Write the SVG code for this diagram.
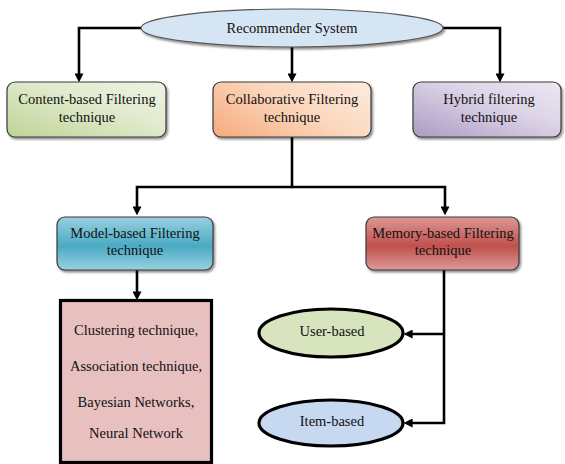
<svg xmlns="http://www.w3.org/2000/svg" width="565" height="464" viewBox="0 0 565 464">
<style>
  text { font-family: "Liberation Serif", "Times New Roman", serif; font-size: 14.5px; fill: #111; text-anchor: middle; }
  .box { stroke: #3a3a3a; stroke-width: 1.2; filter: url(#sh); }
  .conn { fill: none; stroke: #000; stroke-width: 2.6; marker-end: url(#arr); }
  .thick { stroke: #000; stroke-width: 3.2; }
</style>
<defs>
  <marker id="arr" viewBox="0 0 10 10" refX="4" refY="5" markerWidth="9" markerHeight="9" markerUnits="userSpaceOnUse" orient="auto">
    <path d="M0,0 L10,5 L0,10 z" fill="#000"/>
  </marker>
  <filter id="sh" x="-10%" y="-10%" width="125%" height="135%">
    <feDropShadow dx="1.5" dy="2" stdDeviation="1" flood-color="#000" flood-opacity="0.45"/>
  </filter>
  <linearGradient id="gGreen" x1="0" y1="1" x2="1" y2="0">
    <stop offset="0" stop-color="#bfd496"/>
    <stop offset="0.6" stop-color="#e2ebcf"/>
    <stop offset="1" stop-color="#eef3e3"/>
  </linearGradient>
  <linearGradient id="gOrange" x1="0" y1="0.8" x2="1" y2="0.2">
    <stop offset="0" stop-color="#f6b084"/>
    <stop offset="0.55" stop-color="#fbd7bd"/>
    <stop offset="1" stop-color="#fde8d9"/>
  </linearGradient>
  <linearGradient id="gPurple" x1="0" y1="1" x2="1" y2="0">
    <stop offset="0" stop-color="#ad9bc4"/>
    <stop offset="0.6" stop-color="#ddd4e8"/>
    <stop offset="1" stop-color="#ece7f2"/>
  </linearGradient>
  <linearGradient id="gBlue" x1="0" y1="0" x2="0" y2="1">
    <stop offset="0" stop-color="#98d0df"/>
    <stop offset="0.55" stop-color="#4aaac4"/>
    <stop offset="1" stop-color="#9ad1e0"/>
  </linearGradient>
  <linearGradient id="gRed" x1="0" y1="0" x2="0" y2="1">
    <stop offset="0" stop-color="#dc9896"/>
    <stop offset="0.55" stop-color="#c0504d"/>
    <stop offset="1" stop-color="#dc9a98"/>
  </linearGradient>
</defs>

<g id="connectors">
  <path class="conn" d="M141,28 H79 V77"/>
  <path class="conn" d="M443,28 H500 V77"/>
  <path class="conn" d="M292,47 V77"/>
  <path class="conn" d="M292,137 V187 H137 V210"/>
  <path class="conn" d="M292,187 H445 V210"/>
  <path class="conn" d="M137,270 V295"/>
  <path class="conn" d="M444,270 V423 H409"/>
  <path class="conn" d="M444,334 H409"/>
</g>

<g id="recommender-system">
  <ellipse cx="292" cy="28" rx="151" ry="19" fill="#d6e5f4" stroke="#555" stroke-width="1.2" filter="url(#sh)"/>
  <text x="292" y="33">Recommender System</text>
</g>

<g id="content-based">
  <rect class="box" x="7" y="82" width="159" height="55" rx="8" fill="url(#gGreen)"/>
  <text x="87" y="104">Content-based Filtering</text>
  <text x="87" y="121.5">technique</text>
</g>

<g id="collaborative">
  <rect class="box" x="213" y="82" width="158" height="55" rx="8" fill="url(#gOrange)"/>
  <text x="292" y="104">Collaborative Filtering</text>
  <text x="292" y="121.5">technique</text>
</g>

<g id="hybrid">
  <rect class="box" x="413" y="82" width="148" height="55" rx="8" fill="url(#gPurple)"/>
  <text x="489" y="104">Hybrid filtering</text>
  <text x="489" y="121.5">technique</text>
</g>

<g id="model-based">
  <rect class="box" x="57" y="217" width="156" height="53" rx="8" fill="url(#gBlue)"/>
  <text x="135" y="238">Model-based Filtering</text>
  <text x="135" y="255">technique</text>
</g>

<g id="memory-based">
  <rect class="box" x="366" y="217" width="153" height="53" rx="8" fill="url(#gRed)"/>
  <text x="443" y="238">Memory-based Filtering</text>
  <text x="443" y="255">technique</text>
</g>

<g id="model-techniques">
  <rect class="thick" x="60.5" y="300.5" width="151" height="162" fill="#e8c0c0"/>
  <text x="136" y="335">Clustering technique,</text>
  <text x="136" y="371">Association technique,</text>
  <text x="136" y="406.5">Bayesian Networks,</text>
  <text x="136" y="437.5">Neural Network</text>
</g>

<g id="user-based">
  <ellipse class="thick" cx="331" cy="333" rx="72" ry="24" fill="#d7e4bd"/>
  <text x="332" y="336">User-based</text>
</g>

<g id="item-based">
  <ellipse class="thick" cx="331" cy="423" rx="72" ry="23" fill="#c6d9f1"/>
  <text x="332" y="426">Item-based</text>
</g>
</svg>
